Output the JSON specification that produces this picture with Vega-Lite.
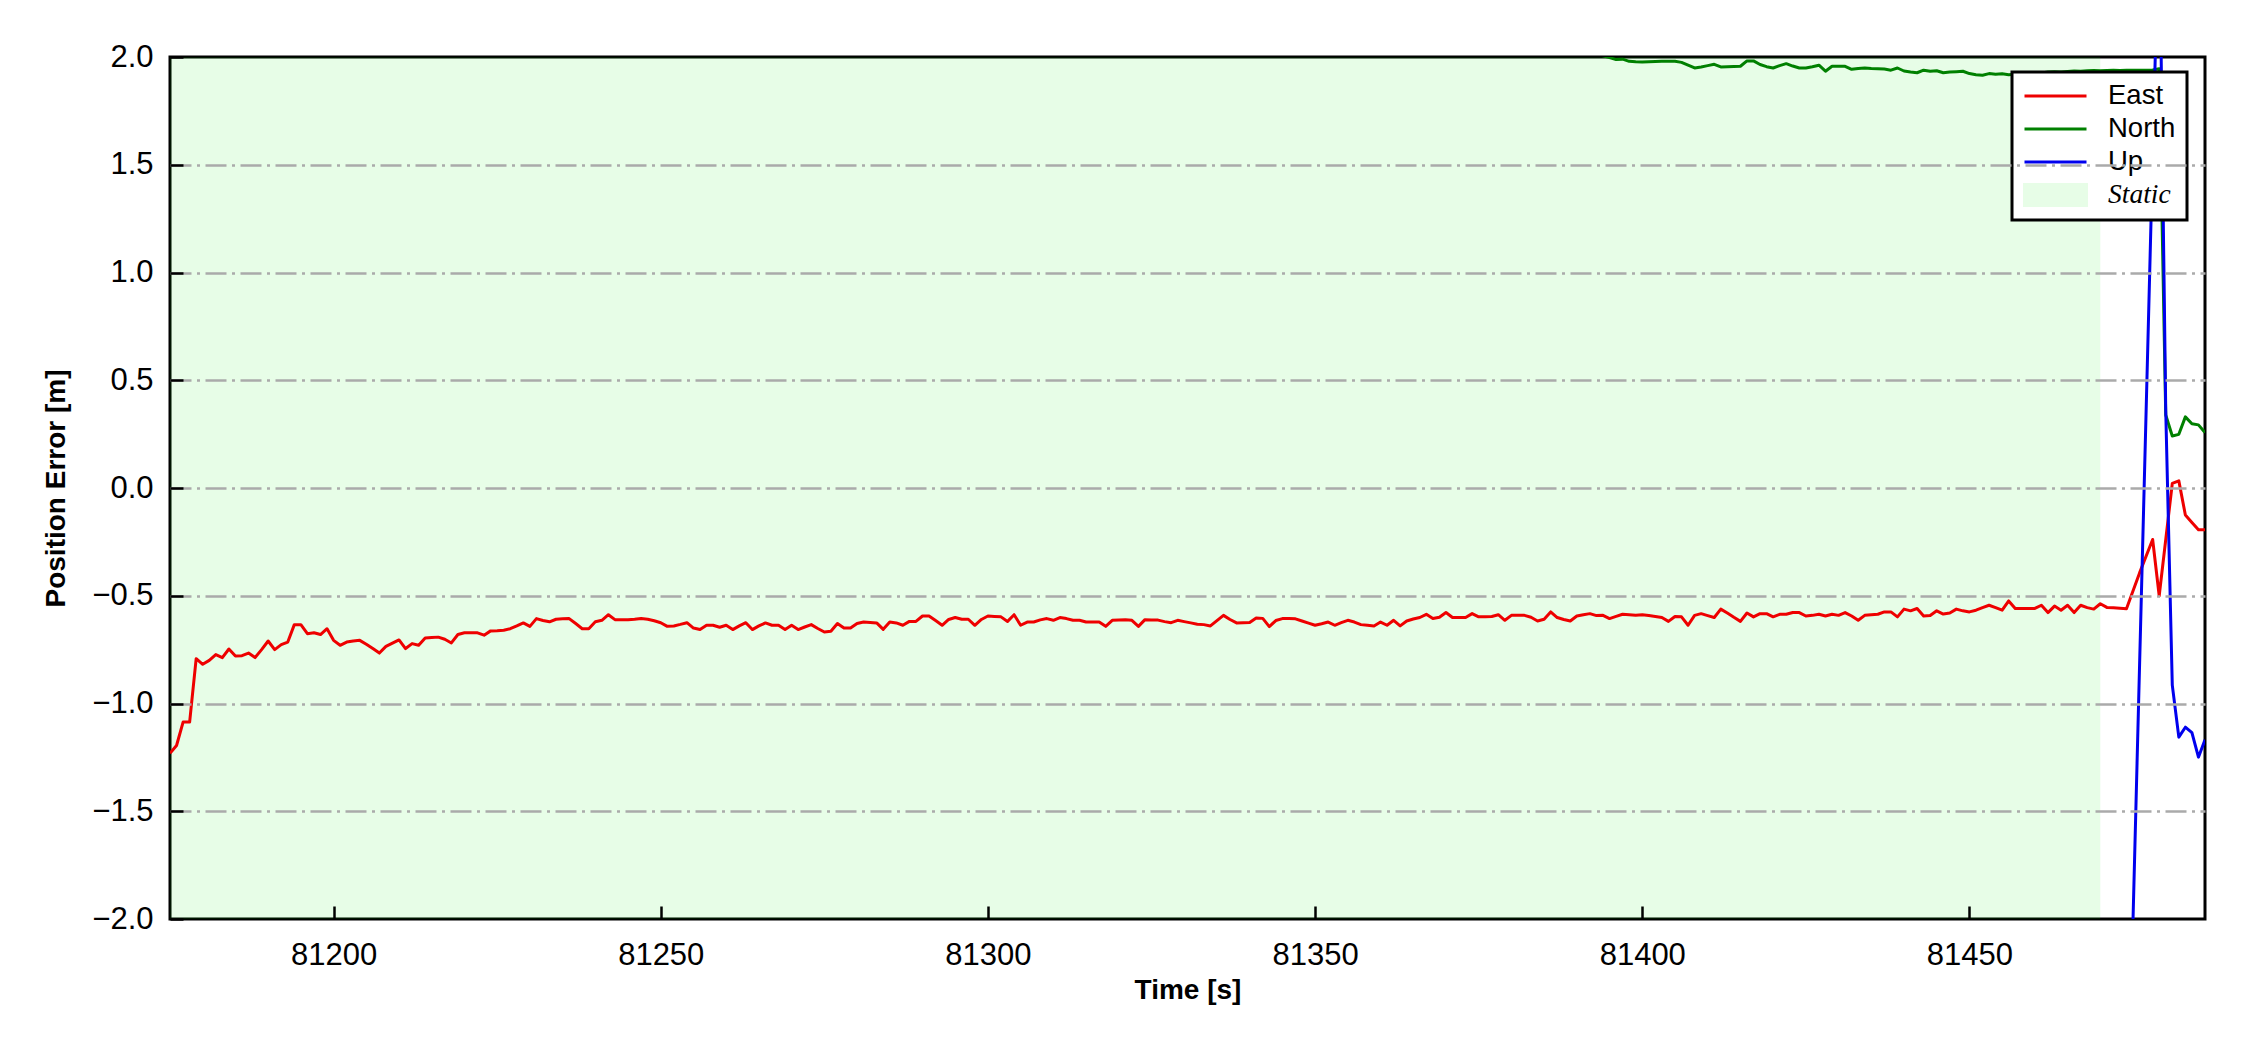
{
  "$schema": "https://vega.github.io/schema/vega-lite/v6.json",
  "autosize": {"type": "none"},
  "padding": {"left": 170, "top": 57, "right": 45, "bottom": 131},
  "width": 2035,
  "height": 862,
  "background": "white",
  "config": {
    "font": "Liberation Sans",
    "view": {"stroke": "black", "strokeWidth": 3},
    "axis": {
      "labelColor": "black",
      "labelFont": "Liberation Sans",
      "labelFontSize": 31,
      "titleColor": "black",
      "titleFont": "Liberation Sans",
      "titleFontSize": 28,
      "titleFontWeight": "bold"
    },
    "axisX": {"grid": false},
    "axisY": {"grid": true, "gridColor": "#aaaaaa", "gridWidth": 2.5, "gridDash": [21, 5.5, 3, 5.5]}
  },
  "encoding": {
    "x": {
      "field": "t",
      "type": "quantitative",
      "scale": {"domain": [81175, 81486], "nice": false, "zero": false},
      "axis": {
        "zindex": 1,
        "offset": -13,
        "domain": false,
        "ticks": true,
        "tickColor": "black",
        "tickWidth": 2.5,
        "tickOpacity": 1,
        "tickSize": 13,
        "labelPadding": 21,
        "values": [81200, 81250, 81300, 81350, 81400, 81450],
        "format": "d",
        "title": "Time [s]",
        "titleX": 1017.5,
        "titleY": 84.5,
        "titleAlign": "center",
        "titleBaseline": "middle"
      }
    }
  },
  "layer": [
    {
      "data": {"values": [{"t": 81175, "t2": 81470}]},
      "mark": {"type": "rect", "fill": "#00ea00", "opacity": 0.094, "clip": true},
      "encoding": {"x2": {"field": "t2"}}
    },
    {
      "data": {
        "values": [
          {"t":81175,"v":-1.231,"s":"East"},{"t":81176,"v":-1.195,"s":"East"},{"t":81177,"v":-1.086,"s":"East"},{"t":81178,"v":-1.086,"s":"East"},{"t":81179,"v":-0.792,"s":"East"},
          {"t":81180,"v":-0.818,"s":"East"},{"t":81181,"v":-0.8,"s":"East"},{"t":81182,"v":-0.773,"s":"East"},{"t":81183,"v":-0.787,"s":"East"},{"t":81184,"v":-0.747,"s":"East"},
          {"t":81185,"v":-0.78,"s":"East"},{"t":81186,"v":-0.778,"s":"East"},{"t":81187,"v":-0.766,"s":"East"},{"t":81188,"v":-0.787,"s":"East"},{"t":81189,"v":-0.75,"s":"East"},
          {"t":81190,"v":-0.71,"s":"East"},{"t":81191,"v":-0.75,"s":"East"},{"t":81192,"v":-0.727,"s":"East"},{"t":81193,"v":-0.715,"s":"East"},{"t":81194,"v":-0.634,"s":"East"},
          {"t":81195,"v":-0.634,"s":"East"},{"t":81196,"v":-0.676,"s":"East"},{"t":81197,"v":-0.672,"s":"East"},{"t":81198,"v":-0.68,"s":"East"},{"t":81199,"v":-0.653,"s":"East"},
          {"t":81200,"v":-0.707,"s":"East"},{"t":81201,"v":-0.73,"s":"East"},{"t":81202,"v":-0.715,"s":"East"},{"t":81203,"v":-0.71,"s":"East"},{"t":81204,"v":-0.707,"s":"East"},
          {"t":81205,"v":-0.725,"s":"East"},{"t":81206,"v":-0.745,"s":"East"},{"t":81207,"v":-0.766,"s":"East"},{"t":81208,"v":-0.735,"s":"East"},{"t":81209,"v":-0.72,"s":"East"},
          {"t":81210,"v":-0.705,"s":"East"},{"t":81211,"v":-0.745,"s":"East"},{"t":81212,"v":-0.722,"s":"East"},{"t":81213,"v":-0.73,"s":"East"},{"t":81214,"v":-0.696,"s":"East"},
          {"t":81215,"v":-0.694,"s":"East"},{"t":81216,"v":-0.692,"s":"East"},{"t":81217,"v":-0.702,"s":"East"},{"t":81218,"v":-0.719,"s":"East"},{"t":81219,"v":-0.68,"s":"East"},
          {"t":81220,"v":-0.672,"s":"East"},{"t":81221,"v":-0.672,"s":"East"},{"t":81222,"v":-0.672,"s":"East"},{"t":81223,"v":-0.683,"s":"East"},{"t":81224,"v":-0.663,"s":"East"},
          {"t":81225,"v":-0.662,"s":"East"},{"t":81226,"v":-0.66,"s":"East"},{"t":81227,"v":-0.653,"s":"East"},{"t":81228,"v":-0.64,"s":"East"},{"t":81229,"v":-0.626,"s":"East"},
          {"t":81230,"v":-0.642,"s":"East"},{"t":81231,"v":-0.606,"s":"East"},{"t":81232,"v":-0.615,"s":"East"},{"t":81233,"v":-0.621,"s":"East"},{"t":81234,"v":-0.609,"s":"East"},
          {"t":81235,"v":-0.607,"s":"East"},{"t":81236,"v":-0.606,"s":"East"},{"t":81237,"v":-0.629,"s":"East"},{"t":81238,"v":-0.653,"s":"East"},{"t":81239,"v":-0.653,"s":"East"},
          {"t":81240,"v":-0.621,"s":"East"},{"t":81241,"v":-0.614,"s":"East"},{"t":81242,"v":-0.588,"s":"East"},{"t":81243,"v":-0.611,"s":"East"},{"t":81244,"v":-0.611,"s":"East"},
          {"t":81245,"v":-0.611,"s":"East"},{"t":81246,"v":-0.609,"s":"East"},{"t":81247,"v":-0.606,"s":"East"},{"t":81248,"v":-0.609,"s":"East"},{"t":81249,"v":-0.616,"s":"East"},
          {"t":81250,"v":-0.625,"s":"East"},{"t":81251,"v":-0.642,"s":"East"},{"t":81252,"v":-0.64,"s":"East"},{"t":81253,"v":-0.633,"s":"East"},{"t":81254,"v":-0.625,"s":"East"},
          {"t":81255,"v":-0.65,"s":"East"},{"t":81256,"v":-0.657,"s":"East"},{"t":81257,"v":-0.637,"s":"East"},{"t":81258,"v":-0.637,"s":"East"},{"t":81259,"v":-0.646,"s":"East"},
          {"t":81260,"v":-0.637,"s":"East"},{"t":81261,"v":-0.657,"s":"East"},{"t":81262,"v":-0.64,"s":"East"},{"t":81263,"v":-0.625,"s":"East"},{"t":81264,"v":-0.657,"s":"East"},
          {"t":81265,"v":-0.64,"s":"East"},{"t":81266,"v":-0.626,"s":"East"},{"t":81267,"v":-0.637,"s":"East"},{"t":81268,"v":-0.637,"s":"East"},{"t":81269,"v":-0.657,"s":"East"},
          {"t":81270,"v":-0.637,"s":"East"},{"t":81271,"v":-0.657,"s":"East"},{"t":81272,"v":-0.645,"s":"East"},{"t":81273,"v":-0.634,"s":"East"},{"t":81274,"v":-0.652,"s":"East"},
          {"t":81275,"v":-0.668,"s":"East"},{"t":81276,"v":-0.665,"s":"East"},{"t":81277,"v":-0.629,"s":"East"},{"t":81278,"v":-0.65,"s":"East"},{"t":81279,"v":-0.65,"s":"East"},
          {"t":81280,"v":-0.629,"s":"East"},{"t":81281,"v":-0.622,"s":"East"},{"t":81282,"v":-0.624,"s":"East"},{"t":81283,"v":-0.626,"s":"East"},{"t":81284,"v":-0.656,"s":"East"},
          {"t":81285,"v":-0.622,"s":"East"},{"t":81286,"v":-0.626,"s":"East"},{"t":81287,"v":-0.637,"s":"East"},{"t":81288,"v":-0.619,"s":"East"},{"t":81289,"v":-0.619,"s":"East"},
          {"t":81290,"v":-0.594,"s":"East"},{"t":81291,"v":-0.594,"s":"East"},{"t":81292,"v":-0.615,"s":"East"},{"t":81293,"v":-0.637,"s":"East"},{"t":81294,"v":-0.61,"s":"East"},
          {"t":81295,"v":-0.601,"s":"East"},{"t":81296,"v":-0.609,"s":"East"},{"t":81297,"v":-0.609,"s":"East"},{"t":81298,"v":-0.637,"s":"East"},{"t":81299,"v":-0.61,"s":"East"},
          {"t":81300,"v":-0.594,"s":"East"},{"t":81301,"v":-0.596,"s":"East"},{"t":81302,"v":-0.598,"s":"East"},{"t":81303,"v":-0.619,"s":"East"},{"t":81304,"v":-0.588,"s":"East"},
          {"t":81305,"v":-0.637,"s":"East"},{"t":81306,"v":-0.622,"s":"East"},{"t":81307,"v":-0.622,"s":"East"},{"t":81308,"v":-0.612,"s":"East"},{"t":81309,"v":-0.606,"s":"East"},
          {"t":81310,"v":-0.614,"s":"East"},{"t":81311,"v":-0.601,"s":"East"},{"t":81312,"v":-0.606,"s":"East"},{"t":81313,"v":-0.614,"s":"East"},{"t":81314,"v":-0.614,"s":"East"},
          {"t":81315,"v":-0.622,"s":"East"},{"t":81316,"v":-0.622,"s":"East"},{"t":81317,"v":-0.622,"s":"East"},{"t":81318,"v":-0.642,"s":"East"},{"t":81319,"v":-0.614,"s":"East"},
          {"t":81320,"v":-0.612,"s":"East"},{"t":81321,"v":-0.611,"s":"East"},{"t":81322,"v":-0.614,"s":"East"},{"t":81323,"v":-0.642,"s":"East"},{"t":81324,"v":-0.611,"s":"East"},
          {"t":81325,"v":-0.612,"s":"East"},{"t":81326,"v":-0.613,"s":"East"},{"t":81327,"v":-0.62,"s":"East"},{"t":81328,"v":-0.625,"s":"East"},{"t":81329,"v":-0.614,"s":"East"},
          {"t":81330,"v":-0.62,"s":"East"},{"t":81331,"v":-0.626,"s":"East"},{"t":81332,"v":-0.632,"s":"East"},{"t":81333,"v":-0.634,"s":"East"},{"t":81334,"v":-0.64,"s":"East"},
          {"t":81335,"v":-0.615,"s":"East"},{"t":81336,"v":-0.591,"s":"East"},{"t":81337,"v":-0.61,"s":"East"},{"t":81338,"v":-0.626,"s":"East"},{"t":81339,"v":-0.625,"s":"East"},
          {"t":81340,"v":-0.624,"s":"East"},{"t":81341,"v":-0.603,"s":"East"},{"t":81342,"v":-0.605,"s":"East"},{"t":81343,"v":-0.643,"s":"East"},{"t":81344,"v":-0.615,"s":"East"},
          {"t":81345,"v":-0.606,"s":"East"},{"t":81346,"v":-0.606,"s":"East"},{"t":81347,"v":-0.607,"s":"East"},{"t":81348,"v":-0.617,"s":"East"},{"t":81349,"v":-0.627,"s":"East"},
          {"t":81350,"v":-0.637,"s":"East"},{"t":81351,"v":-0.63,"s":"East"},{"t":81352,"v":-0.622,"s":"East"},{"t":81353,"v":-0.637,"s":"East"},{"t":81354,"v":-0.625,"s":"East"},
          {"t":81355,"v":-0.614,"s":"East"},{"t":81356,"v":-0.622,"s":"East"},{"t":81357,"v":-0.634,"s":"East"},{"t":81358,"v":-0.637,"s":"East"},{"t":81359,"v":-0.64,"s":"East"},
          {"t":81360,"v":-0.622,"s":"East"},{"t":81361,"v":-0.637,"s":"East"},{"t":81362,"v":-0.614,"s":"East"},{"t":81363,"v":-0.64,"s":"East"},{"t":81364,"v":-0.617,"s":"East"},
          {"t":81365,"v":-0.608,"s":"East"},{"t":81366,"v":-0.601,"s":"East"},{"t":81367,"v":-0.586,"s":"East"},{"t":81368,"v":-0.606,"s":"East"},{"t":81369,"v":-0.6,"s":"East"},
          {"t":81370,"v":-0.578,"s":"East"},{"t":81371,"v":-0.601,"s":"East"},{"t":81372,"v":-0.601,"s":"East"},{"t":81373,"v":-0.601,"s":"East"},{"t":81374,"v":-0.583,"s":"East"},
          {"t":81375,"v":-0.598,"s":"East"},{"t":81376,"v":-0.598,"s":"East"},{"t":81377,"v":-0.596,"s":"East"},{"t":81378,"v":-0.588,"s":"East"},{"t":81379,"v":-0.614,"s":"East"},
          {"t":81380,"v":-0.591,"s":"East"},{"t":81381,"v":-0.591,"s":"East"},{"t":81382,"v":-0.591,"s":"East"},{"t":81383,"v":-0.6,"s":"East"},{"t":81384,"v":-0.617,"s":"East"},
          {"t":81385,"v":-0.609,"s":"East"},{"t":81386,"v":-0.575,"s":"East"},{"t":81387,"v":-0.601,"s":"East"},{"t":81388,"v":-0.61,"s":"East"},{"t":81389,"v":-0.617,"s":"East"},
          {"t":81390,"v":-0.594,"s":"East"},{"t":81391,"v":-0.588,"s":"East"},{"t":81392,"v":-0.583,"s":"East"},{"t":81393,"v":-0.592,"s":"East"},{"t":81394,"v":-0.591,"s":"East"},
          {"t":81395,"v":-0.606,"s":"East"},{"t":81396,"v":-0.596,"s":"East"},{"t":81397,"v":-0.586,"s":"East"},{"t":81398,"v":-0.588,"s":"East"},{"t":81399,"v":-0.59,"s":"East"},
          {"t":81400,"v":-0.588,"s":"East"},{"t":81401,"v":-0.592,"s":"East"},{"t":81402,"v":-0.596,"s":"East"},{"t":81403,"v":-0.601,"s":"East"},{"t":81404,"v":-0.619,"s":"East"},
          {"t":81405,"v":-0.596,"s":"East"},{"t":81406,"v":-0.598,"s":"East"},{"t":81407,"v":-0.637,"s":"East"},{"t":81408,"v":-0.591,"s":"East"},{"t":81409,"v":-0.583,"s":"East"},
          {"t":81410,"v":-0.592,"s":"East"},{"t":81411,"v":-0.601,"s":"East"},{"t":81412,"v":-0.562,"s":"East"},{"t":81413,"v":-0.58,"s":"East"},{"t":81414,"v":-0.6,"s":"East"},
          {"t":81415,"v":-0.619,"s":"East"},{"t":81416,"v":-0.58,"s":"East"},{"t":81417,"v":-0.598,"s":"East"},{"t":81418,"v":-0.583,"s":"East"},{"t":81419,"v":-0.583,"s":"East"},
          {"t":81420,"v":-0.598,"s":"East"},{"t":81421,"v":-0.586,"s":"East"},{"t":81422,"v":-0.586,"s":"East"},{"t":81423,"v":-0.578,"s":"East"},{"t":81424,"v":-0.578,"s":"East"},
          {"t":81425,"v":-0.594,"s":"East"},{"t":81426,"v":-0.591,"s":"East"},{"t":81427,"v":-0.586,"s":"East"},{"t":81428,"v":-0.594,"s":"East"},{"t":81429,"v":-0.586,"s":"East"},
          {"t":81430,"v":-0.591,"s":"East"},{"t":81431,"v":-0.578,"s":"East"},{"t":81432,"v":-0.594,"s":"East"},{"t":81433,"v":-0.614,"s":"East"},{"t":81434,"v":-0.591,"s":"East"},
          {"t":81435,"v":-0.588,"s":"East"},{"t":81436,"v":-0.586,"s":"East"},{"t":81437,"v":-0.575,"s":"East"},{"t":81438,"v":-0.575,"s":"East"},{"t":81439,"v":-0.598,"s":"East"},
          {"t":81440,"v":-0.562,"s":"East"},{"t":81441,"v":-0.57,"s":"East"},{"t":81442,"v":-0.559,"s":"East"},{"t":81443,"v":-0.594,"s":"East"},{"t":81444,"v":-0.592,"s":"East"},
          {"t":81445,"v":-0.57,"s":"East"},{"t":81446,"v":-0.585,"s":"East"},{"t":81447,"v":-0.58,"s":"East"},{"t":81448,"v":-0.562,"s":"East"},{"t":81449,"v":-0.57,"s":"East"},
          {"t":81450,"v":-0.575,"s":"East"},{"t":81451,"v":-0.567,"s":"East"},{"t":81452,"v":-0.555,"s":"East"},{"t":81453,"v":-0.544,"s":"East"},{"t":81454,"v":-0.555,"s":"East"},
          {"t":81455,"v":-0.567,"s":"East"},{"t":81456,"v":-0.524,"s":"East"},{"t":81457,"v":-0.559,"s":"East"},{"t":81458,"v":-0.559,"s":"East"},{"t":81459,"v":-0.559,"s":"East"},
          {"t":81460,"v":-0.559,"s":"East"},{"t":81461,"v":-0.544,"s":"East"},{"t":81462,"v":-0.578,"s":"East"},{"t":81463,"v":-0.548,"s":"East"},{"t":81464,"v":-0.567,"s":"East"},
          {"t":81465,"v":-0.544,"s":"East"},{"t":81466,"v":-0.578,"s":"East"},{"t":81467,"v":-0.544,"s":"East"},{"t":81468,"v":-0.555,"s":"East"},{"t":81469,"v":-0.562,"s":"East"},
          {"t":81470,"v":-0.537,"s":"East"},{"t":81471,"v":-0.554,"s":"East"},{"t":81472,"v":-0.556,"s":"East"},{"t":81473,"v":-0.558,"s":"East"},{"t":81474,"v":-0.56,"s":"East"},
          {"t":81476,"v":-0.394,"s":"East"},{"t":81478,"v":-0.239,"s":"East"},{"t":81479,"v":-0.5,"s":"East"},{"t":81481,"v":0.021,"s":"East"},{"t":81482,"v":0.033,"s":"East"},
          {"t":81483,"v":-0.125,"s":"East"},{"t":81484,"v":-0.16,"s":"East"},{"t":81485,"v":-0.194,"s":"East"},{"t":81486,"v":-0.194,"s":"East"},
          {"t":81393,"v":2.03,"s":"North"},{"t":81394,"v":2.005,"s":"North"},{"t":81395,"v":1.997,"s":"North"},{"t":81396,"v":1.988,"s":"North"},{"t":81397,"v":1.99,"s":"North"},
          {"t":81398,"v":1.98,"s":"North"},{"t":81399,"v":1.978,"s":"North"},{"t":81400,"v":1.977,"s":"North"},{"t":81401,"v":1.978,"s":"North"},{"t":81402,"v":1.979,"s":"North"},
          {"t":81403,"v":1.98,"s":"North"},{"t":81404,"v":1.98,"s":"North"},{"t":81405,"v":1.98,"s":"North"},{"t":81406,"v":1.975,"s":"North"},{"t":81407,"v":1.962,"s":"North"},
          {"t":81408,"v":1.949,"s":"North"},{"t":81409,"v":1.954,"s":"North"},{"t":81410,"v":1.96,"s":"North"},{"t":81411,"v":1.966,"s":"North"},{"t":81412,"v":1.954,"s":"North"},
          {"t":81413,"v":1.955,"s":"North"},{"t":81414,"v":1.956,"s":"North"},{"t":81415,"v":1.957,"s":"North"},{"t":81416,"v":1.982,"s":"North"},{"t":81417,"v":1.982,"s":"North"},
          {"t":81418,"v":1.965,"s":"North"},{"t":81419,"v":1.955,"s":"North"},{"t":81420,"v":1.949,"s":"North"},{"t":81421,"v":1.96,"s":"North"},{"t":81422,"v":1.969,"s":"North"},
          {"t":81423,"v":1.958,"s":"North"},{"t":81424,"v":1.949,"s":"North"},{"t":81425,"v":1.949,"s":"North"},{"t":81426,"v":1.955,"s":"North"},{"t":81427,"v":1.962,"s":"North"},
          {"t":81428,"v":1.934,"s":"North"},{"t":81429,"v":1.957,"s":"North"},{"t":81430,"v":1.957,"s":"North"},{"t":81431,"v":1.957,"s":"North"},{"t":81432,"v":1.943,"s":"North"},
          {"t":81433,"v":1.947,"s":"North"},{"t":81434,"v":1.949,"s":"North"},{"t":81435,"v":1.947,"s":"North"},{"t":81436,"v":1.946,"s":"North"},{"t":81437,"v":1.944,"s":"North"},
          {"t":81438,"v":1.939,"s":"North"},{"t":81439,"v":1.949,"s":"North"},{"t":81440,"v":1.935,"s":"North"},{"t":81441,"v":1.93,"s":"North"},{"t":81442,"v":1.927,"s":"North"},
          {"t":81443,"v":1.939,"s":"North"},{"t":81444,"v":1.934,"s":"North"},{"t":81445,"v":1.936,"s":"North"},{"t":81446,"v":1.927,"s":"North"},{"t":81447,"v":1.93,"s":"North"},
          {"t":81448,"v":1.932,"s":"North"},{"t":81449,"v":1.934,"s":"North"},{"t":81450,"v":1.923,"s":"North"},{"t":81451,"v":1.918,"s":"North"},{"t":81452,"v":1.915,"s":"North"},
          {"t":81453,"v":1.923,"s":"North"},{"t":81454,"v":1.92,"s":"North"},{"t":81455,"v":1.922,"s":"North"},{"t":81456,"v":1.918,"s":"North"},{"t":81457,"v":1.92,"s":"North"},
          {"t":81458,"v":1.922,"s":"North"},{"t":81459,"v":1.925,"s":"North"},{"t":81460,"v":1.928,"s":"North"},{"t":81461,"v":1.926,"s":"North"},{"t":81462,"v":1.93,"s":"North"},
          {"t":81463,"v":1.932,"s":"North"},{"t":81464,"v":1.93,"s":"North"},{"t":81465,"v":1.933,"s":"North"},{"t":81466,"v":1.935,"s":"North"},{"t":81467,"v":1.934,"s":"North"},
          {"t":81468,"v":1.936,"s":"North"},{"t":81469,"v":1.937,"s":"North"},{"t":81470,"v":1.936,"s":"North"},{"t":81471,"v":1.937,"s":"North"},{"t":81472,"v":1.938,"s":"North"},
          {"t":81473,"v":1.937,"s":"North"},{"t":81474,"v":1.938,"s":"North"},{"t":81476,"v":1.938,"s":"North"},{"t":81478,"v":1.94,"s":"North"},{"t":81479,"v":1.945,"s":"North"},
          {"t":81480,"v":0.339,"s":"North"},{"t":81481,"v":0.241,"s":"North"},{"t":81482,"v":0.249,"s":"North"},{"t":81483,"v":0.33,"s":"North"},{"t":81484,"v":0.298,"s":"North"},
          {"t":81485,"v":0.293,"s":"North"},{"t":81486,"v":0.257,"s":"North"},
          {"t":81474,"v":-3.18,"s":"Up"},{"t":81479,"v":2.71,"s":"Up"},{"t":81480,"v":0.36,"s":"Up"},{"t":81481,"v":-0.915,"s":"Up"},{"t":81482,"v":-1.156,"s":"Up"},
          {"t":81483,"v":-1.11,"s":"Up"},{"t":81484,"v":-1.135,"s":"Up"},{"t":81485,"v":-1.249,"s":"Up"},{"t":81486,"v":-1.168,"s":"Up"}
        ]
      },
      "mark": {"type": "line", "strokeWidth": 3, "strokeJoin": "round", "clip": true},
      "encoding": {
        "y": {
          "field": "v",
          "type": "quantitative",
          "scale": {"domain": [-2, 2], "nice": false, "zero": false},
          "axis": {
            "zindex": 1,
            "offset": -13,
            "domain": false,
            "ticks": true,
            "tickColor": "black",
            "tickWidth": 2.5,
            "tickOpacity": 1,
            "tickSize": 13,
            "labelPadding": 17,
            "gridOpacity": {"condition": {"test": "abs(datum.value) > 1.9", "value": 0}, "value": 1},
            "values": [-2, -1.5, -1, -0.5, 0, 0.5, 1, 1.5, 2],
            "format": ".1f",
            "title": "Position Error [m]",
            "titleX": -127,
            "titleY": 431,
            "titleAlign": "center",
            "titleBaseline": "middle",
            "titleAngle": -90
          }
        },
        "color": {
          "field": "s",
          "type": "nominal",
          "scale": {"domain": ["East", "North", "Up", "Static"], "range": ["#ee0000", "#008000", "#0000ee", "#e7fde7"]},
          "legend": {
            "title": null,
            "orient": "none",
            "legendX": 1842,
            "legendY": 15,
            "symbolType": "stroke",
            "symbolSize": 3844,
            "symbolStrokeWidth": 3,
            "labelFontSize": 27.5,
            "labelFont": "Liberation Sans",
            "labelColor": "black",
            "labelOffset": 20,
            "clipHeight": 26,
            "rowPadding": 5,
            "padding": 11,
            "strokeColor": "black",
            "fillColor": "white",
            "cornerRadius": 0,
            "encode": {
              "legend": {"update": {"strokeWidth": {"value": 3}}},
              "labels": {"update": {
                "fontStyle": {"signal": "datum.label === 'Static' ? 'italic' : 'normal'"},
                "font": {"signal": "datum.label === 'Static' ? 'Liberation Serif' : 'Liberation Sans'"}
              }},
              "symbols": {"update": {
                "shape": {"signal": "datum.label === 'Static' ? 'M-1,-0.34H1V0.34H-1Z' : 'stroke'"},
                "fill": {"signal": "datum.label === 'Static' ? '#e7fde7' : 'transparent'"}
              }}
            }
          }
        }
      }
    }
  ]
}
